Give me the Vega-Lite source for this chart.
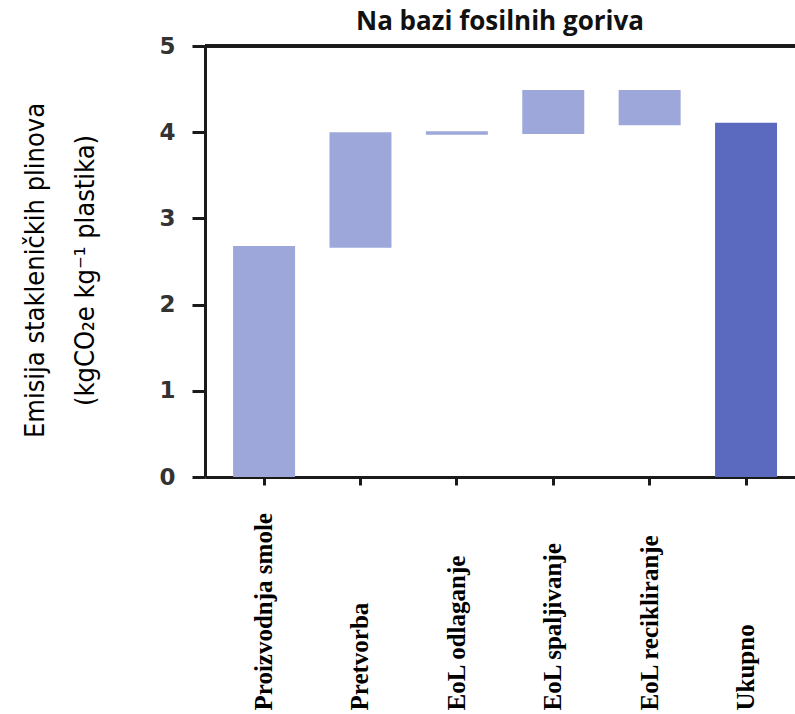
{
  "$schema": "https://vega.github.io/schema/vega-lite/v6.json",
  "autosize": {"type": "none"},
  "width": 590,
  "height": 431,
  "padding": {"left": 205, "top": 46, "right": 0, "bottom": 237},
  "background": "white",
  "config": {"view": {"stroke": null}},
  "title": {
    "text": "Na bazi fosilnih goriva",
    "font": "Open Sans",
    "fontSize": 26,
    "fontWeight": "bold",
    "color": "#111111",
    "anchor": "middle",
    "offset": 0
  },
  "data": {
    "values": [
      {"faza": "Proizvodnja smole", "od": 0, "do": 2.68, "vrsta": "korak"},
      {"faza": "Pretvorba", "od": 2.66, "do": 4.0, "vrsta": "korak"},
      {"faza": "EoL odlaganje", "od": 3.97, "do": 4.01, "vrsta": "korak"},
      {"faza": "EoL spaljivanje", "od": 3.98, "do": 4.49, "vrsta": "korak"},
      {"faza": "EoL recikliranje", "od": 4.08, "do": 4.49, "vrsta": "korak"},
      {"faza": "Ukupno", "od": 0, "do": 4.11, "vrsta": "ukupno"}
    ]
  },
  "layer": [
    {
      "mark": {"type": "bar"},
      "encoding": {
        "x": {
          "field": "faza",
          "type": "nominal",
          "sort": null,
          "scale": {"paddingInner": 0.357, "paddingOuter": 0.239, "align": 0.61},
          "axis": {
            "title": null,
            "domainColor": "#1a1a1a",
            "domainWidth": 3,
            "tickColor": "#1a1a1a",
            "tickWidth": 3,
            "tickSize": 8,
            "labelAngle": -90,
            "labelAlign": "left",
            "labelBaseline": "middle",
            "labelPadding": 225,
            "labelFont": "Liberation Serif",
            "labelFontWeight": "bold",
            "labelFontSize": 25,
            "labelColor": "#000000",
            "labelLimit": 400,
            "labelOverlap": false
          }
        },
        "y": {
          "field": "od",
          "type": "quantitative",
          "scale": {"domain": [0, 5], "nice": false},
          "axis": {
            "values": [0, 1, 2, 3, 4, 5],
            "format": "d",
            "grid": false,
            "domainColor": "#1a1a1a",
            "domainWidth": 3,
            "tickColor": "#1a1a1a",
            "tickWidth": 3,
            "tickSize": 13,
            "labelFont": "DejaVu Sans",
            "labelFontWeight": "bold",
            "labelFontSize": 23,
            "labelColor": "#333333",
            "labelPadding": 17,
            "title": ["Emisija stakleničkih plinova", "(kgCO₂e kg⁻¹ plastika)"],
            "titleFont": "DejaVu Sans Condensed, Roboto",
            "titleFontSize": 27,
            "titleFontWeight": "normal",
            "titleColor": "#000000",
            "titleLineHeight": 50,
            "titleBaseline": "alphabetic",
            "titleAlign": "center",
            "titleAngle": -90,
            "titleX": -162,
            "titleY": 224
          }
        },
        "y2": {"field": "do"},
        "color": {
          "field": "vrsta",
          "type": "nominal",
          "scale": {"domain": ["korak", "ukupno"], "range": ["#9ea7da", "#5b69be"]},
          "legend": null
        }
      }
    },
    {
      "mark": {"type": "rule", "color": "#1a1a1a", "strokeWidth": 3},
      "encoding": {"y": {"datum": 5}}
    }
  ]
}
